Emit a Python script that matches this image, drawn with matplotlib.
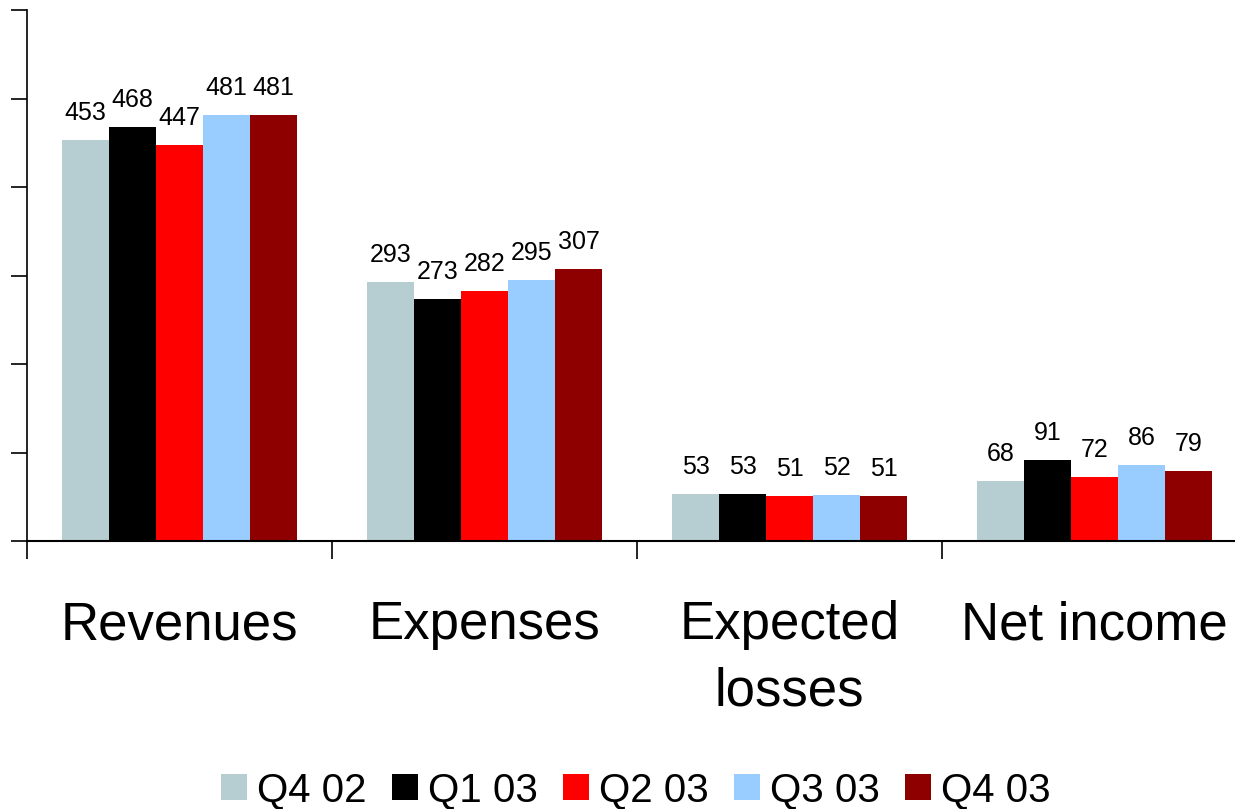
import numpy as np
import matplotlib
matplotlib.use('Agg')
import matplotlib.pyplot as plt
import matplotlib.transforms as mtransforms

categories = ['Revenues', 'Expenses', 'Expected\nlosses', 'Net income']
quarters = ['Q4 02', 'Q1 03', 'Q2 03', 'Q3 03', 'Q4 03']
q4_02 = [453, 293, 53, 68]
q1_03 = [468, 273, 53, 91]
q2_03 = [447, 282, 51, 72]
q3_03 = [481, 295, 52, 86]
q4_03 = [481, 307, 51, 79]
colors = ['#B6CDD1', '#000000', '#FF0000', '#99CCFF', '#8E0000']

plt.rcParams['font.family'] = ['Liberation Sans', 'DejaVu Sans']

fig = plt.figure(figsize=(12.35, 8.09), dpi=100)
ax = fig.add_axes([27 / 1235, 1 - 541 / 809, 1 - 27 / 1235, 531 / 809])

series = [q4_02, q1_03, q2_03, q3_03, q4_03]
x = np.arange(len(categories))
width = 0.154
for i, (vals, q, c) in enumerate(zip(series, quarters, colors)):
    pos = x + (i - 2) * width
    ax.bar(pos, vals, width, color=c, label=q, linewidth=0)
    for px, v in zip(pos, vals):
        ax.annotate(str(v), (px, v), xytext=(0, 14.5), textcoords='offset points',
                    ha='center', va='baseline', fontsize=18)

ax.set_ylim(0, 600)
ax.set_xlim(-0.5, 3.46)
ax.set_yticks(np.arange(0, 601, 100))
ax.set_yticklabels([])
ax.set_xticks(np.arange(-0.5, 3.5, 1.0))
ax.set_xticklabels([])
ax.tick_params(axis='y', direction='out', length=11.5, width=1.2)
ax.tick_params(axis='x', direction='out', length=13, width=1.2)
ax.spines['top'].set_visible(False)
ax.spines['right'].set_visible(False)
ax.spines['left'].set_linewidth(1.2)
ax.spines['bottom'].set_linewidth(1.5)

# category names below the axis, one line at a time (baselines at 639 and 706 px)
trans = mtransforms.blended_transform_factory(ax.transData, ax.transAxes)
for xi, cat in zip(x, categories):
    for k, line in enumerate(cat.split('\n')):
        ax.text(xi, -(639 + 67 * k - 541) / 531, line, transform=trans,
                ha='center', va='baseline', fontsize=38)

fig.legend(loc='center', bbox_to_anchor=(636 / 1235, 1 - 790 / 809), ncol=5,
           frameon=False, fontsize=29,
           handlelength=0.65, handleheight=0.62, handletextpad=0.25,
           columnspacing=0.62, borderpad=0)

fig.savefig('out.png', dpi=100)
